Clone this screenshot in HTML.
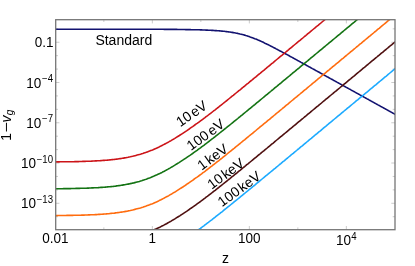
<!DOCTYPE html>
<html><head><meta charset="utf-8"><title>plot</title>
<style>
html,body{margin:0;padding:0;background:#fff;}
body{width:415px;height:266px;overflow:hidden;position:relative;font-family:"Liberation Sans",sans-serif;}
svg{position:absolute;left:0;top:0;will-change:transform;}
</style></head><body>
<svg width="415" height="266" viewBox="0 0 415 266">
<defs><clipPath id="c"><rect x="55.70" y="19.70" width="339.30" height="210.00"/></clipPath></defs>
<path d="M55.70 216.71 h2.30 M395.00 216.71 h-2.30 M55.70 203.29 h3.70 M395.00 203.29 h-3.70 M55.70 189.87 h2.30 M395.00 189.87 h-2.30 M55.70 176.45 h2.30 M395.00 176.45 h-2.30 M55.70 163.03 h3.70 M395.00 163.03 h-3.70 M55.70 149.61 h2.30 M395.00 149.61 h-2.30 M55.70 136.19 h2.30 M395.00 136.19 h-2.30 M55.70 122.77 h3.70 M395.00 122.77 h-3.70 M55.70 109.35 h2.30 M395.00 109.35 h-2.30 M55.70 95.93 h2.30 M395.00 95.93 h-2.30 M55.70 82.51 h3.70 M395.00 82.51 h-3.70 M55.70 69.09 h2.30 M395.00 69.09 h-2.30 M55.70 55.67 h2.30 M395.00 55.67 h-2.30 M55.70 42.25 h3.70 M395.00 42.25 h-3.70 M55.70 28.83 h2.30 M395.00 28.83 h-2.30 M103.85 229.70 v-2.30 M103.85 19.70 v2.30 M152.35 229.70 v-3.70 M152.35 19.70 v3.70 M200.85 229.70 v-2.30 M200.85 19.70 v2.30 M249.35 229.70 v-3.70 M249.35 19.70 v3.70 M297.85 229.70 v-2.30 M297.85 19.70 v2.30 M346.35 229.70 v-3.70 M346.35 19.70 v3.70" stroke="#aaa" stroke-width="0.6" fill="none"/>
<g clip-path="url(#c)" fill="none" stroke-width="1.6" stroke-linejoin="round">
<path d="M53.4 29.2L54.6 29.2L55.7 29.2L56.8 29.2L58.0 29.2L59.1 29.2L60.2 29.2L61.4 29.2L62.5 29.2L63.6 29.2L64.7 29.2L65.9 29.2L67.0 29.2L68.1 29.2L69.3 29.2L70.4 29.2L71.5 29.2L72.7 29.2L73.8 29.2L74.9 29.2L76.1 29.2L77.2 29.2L78.3 29.2L79.5 29.2L80.6 29.2L81.7 29.2L82.8 29.2L84.0 29.2L85.1 29.2L86.2 29.2L87.4 29.2L88.5 29.2L89.6 29.2L90.8 29.2L91.9 29.2L93.0 29.2L94.2 29.2L95.3 29.2L96.4 29.2L97.5 29.2L98.7 29.2L99.8 29.2L100.9 29.2L102.1 29.2L103.2 29.2L104.3 29.2L105.5 29.2L106.6 29.2L107.7 29.2L108.9 29.2L110.0 29.3L111.1 29.3L112.2 29.3L113.4 29.3L114.5 29.3L115.6 29.3L116.8 29.3L117.9 29.3L119.0 29.3L120.2 29.3L121.3 29.3L122.4 29.3L123.6 29.3L124.7 29.3L125.8 29.3L127.0 29.3L128.1 29.3L129.2 29.3L130.3 29.3L131.5 29.3L132.6 29.3L133.7 29.3L134.9 29.3L136.0 29.3L137.1 29.3L138.3 29.3L139.4 29.3L140.5 29.3L141.7 29.3L142.8 29.3L143.9 29.3L145.0 29.3L146.2 29.3L147.3 29.3L148.4 29.3L149.6 29.3L150.7 29.3L151.8 29.3L153.0 29.3L154.1 29.3L155.2 29.3L156.4 29.3L157.5 29.3L158.6 29.3L159.8 29.3L160.9 29.3L162.0 29.3L163.1 29.3L164.3 29.4L165.4 29.4L166.5 29.4L167.7 29.4L168.8 29.4L169.9 29.4L171.1 29.4L172.2 29.4L173.3 29.4L174.5 29.4L175.6 29.4L176.7 29.4L177.8 29.5L179.0 29.5L180.1 29.5L181.2 29.5L182.4 29.5L183.5 29.5L184.6 29.5L185.8 29.6L186.9 29.6L188.0 29.6L189.2 29.6L190.3 29.6L191.4 29.7L192.6 29.7L193.7 29.7L194.8 29.7L195.9 29.8L197.1 29.8L198.2 29.8L199.3 29.8L200.5 29.9L201.6 29.9L202.7 30.0L203.9 30.0L205.0 30.0L206.1 30.1L207.3 30.1L208.4 30.2L209.5 30.2L210.6 30.3L211.8 30.4L212.9 30.4L214.0 30.5L215.2 30.6L216.3 30.6L217.4 30.7L218.6 30.8L219.7 30.9L220.8 31.0L222.0 31.1L223.1 31.2L224.2 31.3L225.4 31.5L226.5 31.6L227.6 31.7L228.7 31.9L229.9 32.0L231.0 32.2L232.1 32.4L233.3 32.6L234.4 32.8L235.5 33.0L236.7 33.2L237.8 33.4L238.9 33.7L240.1 34.0L241.2 34.2L242.3 34.5L243.4 34.8L244.6 35.1L245.7 35.5L246.8 35.8L248.0 36.2L249.1 36.6L250.2 37.0L251.4 37.4L252.5 37.8L253.6 38.2L254.8 38.7L255.9 39.1L257.0 39.6L258.1 40.1L259.3 40.6L260.4 41.1L261.5 41.6L262.7 42.1L263.8 42.6L264.9 43.2L266.1 43.7L267.2 44.3L268.3 44.8L269.5 45.4L270.6 46.0L271.7 46.5L272.9 47.1L274.0 47.7L275.1 48.3L276.2 48.9L277.4 49.5L278.5 50.1L279.6 50.7L280.8 51.3L281.9 51.9L283.0 52.5L284.2 53.1L285.3 53.7L286.4 54.3L287.6 54.9L288.7 55.5L289.8 56.2L290.9 56.8L292.1 57.4L293.2 58.0L294.3 58.6L295.5 59.3L296.6 59.9L297.7 60.5L298.9 61.1L300.0 61.7L301.1 62.4L302.3 63.0L303.4 63.6L304.5 64.2L305.7 64.8L306.8 65.5L307.9 66.1L309.0 66.7L310.2 67.3L311.3 68.0L312.4 68.6L313.6 69.2L314.7 69.8L315.8 70.5L317.0 71.1L318.1 71.7L319.2 72.3L320.4 73.0L321.5 73.6L322.6 74.2L323.7 74.8L324.9 75.5L326.0 76.1L327.1 76.7L328.3 77.3L329.4 78.0L330.5 78.6L331.7 79.2L332.8 79.8L333.9 80.5L335.1 81.1L336.2 81.7L337.3 82.4L338.5 83.0L339.6 83.6L340.7 84.2L341.8 84.9L343.0 85.5L344.1 86.1L345.2 86.7L346.4 87.4L347.5 88.0L348.6 88.6L349.8 89.2L350.9 89.9L352.0 90.5L353.2 91.1L354.3 91.7L355.4 92.4L356.5 93.0L357.7 93.6L358.8 94.2L359.9 94.9L361.1 95.5L362.2 96.1L363.3 96.7L364.5 97.4L365.6 98.0L366.7 98.6L367.9 99.2L369.0 99.9L370.1 100.5L371.2 101.1L372.4 101.8L373.5 102.4L374.6 103.0L375.8 103.6L376.9 104.3L378.0 104.9L379.2 105.5L380.3 106.1L381.4 106.8L382.6 107.4L383.7 108.0L384.8 108.6L386.0 109.3L387.1 109.9L388.2 110.5L389.3 111.1L390.5 111.8L391.6 112.4L392.7 113.0L393.9 113.6L395.0 114.3L396.1 114.9L397.3 115.5" stroke="#121270"/>
<path d="M53.4 161.9L54.6 161.9L55.7 161.9L56.8 161.9L58.0 161.9L59.1 161.9L60.2 161.8L61.4 161.8L62.5 161.8L63.6 161.8L64.7 161.8L65.9 161.8L67.0 161.8L68.1 161.7L69.3 161.7L70.4 161.7L71.5 161.7L72.7 161.7L73.8 161.7L74.9 161.6L76.1 161.6L77.2 161.6L78.3 161.6L79.5 161.5L80.6 161.5L81.7 161.5L82.8 161.4L84.0 161.4L85.1 161.4L86.2 161.3L87.4 161.3L88.5 161.2L89.6 161.2L90.8 161.2L91.9 161.1L93.0 161.0L94.2 161.0L95.3 160.9L96.4 160.9L97.5 160.8L98.7 160.7L99.8 160.7L100.9 160.6L102.1 160.5L103.2 160.4L104.3 160.4L105.5 160.3L106.6 160.2L107.7 160.1L108.9 160.0L110.0 159.9L111.1 159.8L112.2 159.6L113.4 159.5L114.5 159.4L115.6 159.2L116.8 159.1L117.9 159.0L119.0 158.8L120.2 158.6L121.3 158.5L122.4 158.3L123.6 158.1L124.7 157.9L125.8 157.7L127.0 157.5L128.1 157.3L129.2 157.0L130.3 156.8L131.5 156.5L132.6 156.3L133.7 156.0L134.9 155.7L136.0 155.4L137.1 155.1L138.3 154.8L139.4 154.5L140.5 154.2L141.7 153.8L142.8 153.5L143.9 153.1L145.0 152.7L146.2 152.3L147.3 151.9L148.4 151.5L149.6 151.1L150.7 150.6L151.8 150.2L153.0 149.7L154.1 149.2L155.2 148.7L156.4 148.2L157.5 147.7L158.6 147.2L159.8 146.6L160.9 146.1L162.0 145.5L163.1 144.9L164.3 144.3L165.4 143.7L166.5 143.1L167.7 142.5L168.8 141.9L169.9 141.2L171.1 140.6L172.2 139.9L173.3 139.3L174.5 138.6L175.6 137.9L176.7 137.2L177.8 136.5L179.0 135.8L180.1 135.0L181.2 134.3L182.4 133.6L183.5 132.8L184.6 132.1L185.8 131.3L186.9 130.6L188.0 129.8L189.2 129.0L190.3 128.2L191.4 127.4L192.6 126.6L193.7 125.8L194.8 125.0L195.9 124.2L197.1 123.4L198.2 122.6L199.3 121.8L200.5 120.9L201.6 120.1L202.7 119.3L203.9 118.4L205.0 117.6L206.1 116.7L207.3 115.9L208.4 115.0L209.5 114.1L210.6 113.3L211.8 112.4L212.9 111.5L214.0 110.6L215.2 109.8L216.3 108.9L217.4 108.0L218.6 107.1L219.7 106.2L220.8 105.3L222.0 104.4L223.1 103.5L224.2 102.6L225.4 101.7L226.5 100.8L227.6 99.9L228.7 99.0L229.9 98.0L231.0 97.1L232.1 96.2L233.3 95.3L234.4 94.4L235.5 93.5L236.7 92.5L237.8 91.6L238.9 90.7L240.1 89.8L241.2 88.9L242.3 87.9L243.4 87.0L244.6 86.1L245.7 85.1L246.8 84.2L248.0 83.3L249.1 82.4L250.2 81.4L251.4 80.5L252.5 79.6L253.6 78.6L254.8 77.7L255.9 76.8L257.0 75.8L258.1 74.9L259.3 74.0L260.4 73.1L261.5 72.1L262.7 71.2L263.8 70.3L264.9 69.3L266.1 68.4L267.2 67.4L268.3 66.5L269.5 65.6L270.6 64.6L271.7 63.7L272.9 62.8L274.0 61.8L275.1 60.9L276.2 60.0L277.4 59.0L278.5 58.1L279.6 57.2L280.8 56.2L281.9 55.3L283.0 54.3L284.2 53.4L285.3 52.5L286.4 51.5L287.6 50.6L288.7 49.7L289.8 48.7L290.9 47.8L292.1 46.8L293.2 45.9L294.3 45.0L295.5 44.0L296.6 43.1L297.7 42.2L298.9 41.2L300.0 40.3L301.1 39.3L302.3 38.4L303.4 37.5L304.5 36.5L305.7 35.6L306.8 34.7L307.9 33.7L309.0 32.8L310.2 31.8L311.3 30.9L312.4 30.0L313.6 29.0L314.7 28.1L315.8 27.1L317.0 26.2L318.1 25.3L319.2 24.3L320.4 23.4L321.5 22.5L322.6 21.5L323.7 20.6L324.9 19.6L326.0 18.7L327.1 17.8L328.3 16.8L329.4 15.9L330.5 14.9L331.7 14.0L332.8 13.1L333.9 12.1" stroke="#cc1418"/>
<path d="M53.4 188.7L54.6 188.7L55.7 188.7L56.8 188.7L58.0 188.7L59.1 188.7L60.2 188.7L61.4 188.7L62.5 188.7L63.6 188.6L64.7 188.6L65.9 188.6L67.0 188.6L68.1 188.6L69.3 188.6L70.4 188.6L71.5 188.5L72.7 188.5L73.8 188.5L74.9 188.5L76.1 188.4L77.2 188.4L78.3 188.4L79.5 188.4L80.6 188.3L81.7 188.3L82.8 188.3L84.0 188.2L85.1 188.2L86.2 188.2L87.4 188.1L88.5 188.1L89.6 188.0L90.8 188.0L91.9 187.9L93.0 187.9L94.2 187.8L95.3 187.8L96.4 187.7L97.5 187.7L98.7 187.6L99.8 187.5L100.9 187.4L102.1 187.4L103.2 187.3L104.3 187.2L105.5 187.1L106.6 187.0L107.7 186.9L108.9 186.8L110.0 186.7L111.1 186.6L112.2 186.5L113.4 186.4L114.5 186.2L115.6 186.1L116.8 185.9L117.9 185.8L119.0 185.6L120.2 185.5L121.3 185.3L122.4 185.1L123.6 184.9L124.7 184.7L125.8 184.5L127.0 184.3L128.1 184.1L129.2 183.9L130.3 183.6L131.5 183.4L132.6 183.1L133.7 182.9L134.9 182.6L136.0 182.3L137.1 182.0L138.3 181.7L139.4 181.4L140.5 181.0L141.7 180.7L142.8 180.3L143.9 179.9L145.0 179.6L146.2 179.2L147.3 178.8L148.4 178.3L149.6 177.9L150.7 177.5L151.8 177.0L153.0 176.5L154.1 176.1L155.2 175.6L156.4 175.1L157.5 174.5L158.6 174.0L159.8 173.5L160.9 172.9L162.0 172.4L163.1 171.8L164.3 171.2L165.4 170.6L166.5 170.0L167.7 169.4L168.8 168.7L169.9 168.1L171.1 167.4L172.2 166.8L173.3 166.1L174.5 165.4L175.6 164.7L176.7 164.0L177.8 163.3L179.0 162.6L180.1 161.9L181.2 161.2L182.4 160.4L183.5 159.7L184.6 158.9L185.8 158.2L186.9 157.4L188.0 156.6L189.2 155.8L190.3 155.1L191.4 154.3L192.6 153.5L193.7 152.7L194.8 151.9L195.9 151.1L197.1 150.3L198.2 149.4L199.3 148.6L200.5 147.8L201.6 146.9L202.7 146.1L203.9 145.3L205.0 144.4L206.1 143.6L207.3 142.7L208.4 141.8L209.5 141.0L210.6 140.1L211.8 139.2L212.9 138.4L214.0 137.5L215.2 136.6L216.3 135.7L217.4 134.8L218.6 133.9L219.7 133.0L220.8 132.1L222.0 131.2L223.1 130.3L224.2 129.4L225.4 128.5L226.5 127.6L227.6 126.7L228.7 125.8L229.9 124.9L231.0 124.0L232.1 123.1L233.3 122.1L234.4 121.2L235.5 120.3L236.7 119.4L237.8 118.5L238.9 117.5L240.1 116.6L241.2 115.7L242.3 114.8L243.4 113.8L244.6 112.9L245.7 112.0L246.8 111.1L248.0 110.1L249.1 109.2L250.2 108.3L251.4 107.3L252.5 106.4L253.6 105.5L254.8 104.6L255.9 103.6L257.0 102.7L258.1 101.8L259.3 100.8L260.4 99.9L261.5 99.0L262.7 98.0L263.8 97.1L264.9 96.2L266.1 95.2L267.2 94.3L268.3 93.4L269.5 92.4L270.6 91.5L271.7 90.5L272.9 89.6L274.0 88.7L275.1 87.7L276.2 86.8L277.4 85.9L278.5 84.9L279.6 84.0L280.8 83.1L281.9 82.1L283.0 81.2L284.2 80.2L285.3 79.3L286.4 78.4L287.6 77.4L288.7 76.5L289.8 75.6L290.9 74.6L292.1 73.7L293.2 72.7L294.3 71.8L295.5 70.9L296.6 69.9L297.7 69.0L298.9 68.1L300.0 67.1L301.1 66.2L302.3 65.2L303.4 64.3L304.5 63.4L305.7 62.4L306.8 61.5L307.9 60.6L309.0 59.6L310.2 58.7L311.3 57.7L312.4 56.8L313.6 55.9L314.7 54.9L315.8 54.0L317.0 53.0L318.1 52.1L319.2 51.2L320.4 50.2L321.5 49.3L322.6 48.4L323.7 47.4L324.9 46.5L326.0 45.5L327.1 44.6L328.3 43.7L329.4 42.7L330.5 41.8L331.7 40.8L332.8 39.9L333.9 39.0L335.1 38.0L336.2 37.1L337.3 36.2L338.5 35.2L339.6 34.3L340.7 33.3L341.8 32.4L343.0 31.5L344.1 30.5L345.2 29.6L346.4 28.6L347.5 27.7L348.6 26.8L349.8 25.8L350.9 24.9L352.0 23.9L353.2 23.0L354.3 22.1L355.4 21.1L356.5 20.2L357.7 19.3L358.8 18.3L359.9 17.4L361.1 16.4L362.2 15.5L363.3 14.6L364.5 13.6L365.6 12.7L366.7 11.7" stroke="#137313"/>
<path d="M53.4 215.6L54.6 215.6L55.7 215.6L56.8 215.6L58.0 215.5L59.1 215.5L60.2 215.5L61.4 215.5L62.5 215.5L63.6 215.5L64.7 215.5L65.9 215.5L67.0 215.4L68.1 215.4L69.3 215.4L70.4 215.4L71.5 215.4L72.7 215.4L73.8 215.3L74.9 215.3L76.1 215.3L77.2 215.3L78.3 215.2L79.5 215.2L80.6 215.2L81.7 215.1L82.8 215.1L84.0 215.1L85.1 215.0L86.2 215.0L87.4 215.0L88.5 214.9L89.6 214.9L90.8 214.8L91.9 214.8L93.0 214.7L94.2 214.7L95.3 214.6L96.4 214.6L97.5 214.5L98.7 214.4L99.8 214.4L100.9 214.3L102.1 214.2L103.2 214.1L104.3 214.0L105.5 214.0L106.6 213.9L107.7 213.8L108.9 213.7L110.0 213.5L111.1 213.4L112.2 213.3L113.4 213.2L114.5 213.1L115.6 212.9L116.8 212.8L117.9 212.6L119.0 212.5L120.2 212.3L121.3 212.1L122.4 212.0L123.6 211.8L124.7 211.6L125.8 211.4L127.0 211.2L128.1 210.9L129.2 210.7L130.3 210.5L131.5 210.2L132.6 210.0L133.7 209.7L134.9 209.4L136.0 209.1L137.1 208.8L138.3 208.5L139.4 208.2L140.5 207.9L141.7 207.5L142.8 207.2L143.9 206.8L145.0 206.4L146.2 206.0L147.3 205.6L148.4 205.2L149.6 204.8L150.7 204.3L151.8 203.9L153.0 203.4L154.1 202.9L155.2 202.4L156.4 201.9L157.5 201.4L158.6 200.9L159.8 200.3L160.9 199.8L162.0 199.2L163.1 198.6L164.3 198.0L165.4 197.4L166.5 196.8L167.7 196.2L168.8 195.6L169.9 194.9L171.1 194.3L172.2 193.6L173.3 192.9L174.5 192.3L175.6 191.6L176.7 190.9L177.8 190.2L179.0 189.4L180.1 188.7L181.2 188.0L182.4 187.3L183.5 186.5L184.6 185.8L185.8 185.0L186.9 184.2L188.0 183.5L189.2 182.7L190.3 181.9L191.4 181.1L192.6 180.3L193.7 179.5L194.8 178.7L195.9 177.9L197.1 177.1L198.2 176.3L199.3 175.5L200.5 174.6L201.6 173.8L202.7 172.9L203.9 172.1L205.0 171.3L206.1 170.4L207.3 169.5L208.4 168.7L209.5 167.8L210.6 166.9L211.8 166.1L212.9 165.2L214.0 164.3L215.2 163.4L216.3 162.5L217.4 161.7L218.6 160.8L219.7 159.9L220.8 159.0L222.0 158.1L223.1 157.2L224.2 156.3L225.4 155.4L226.5 154.5L227.6 153.5L228.7 152.6L229.9 151.7L231.0 150.8L232.1 149.9L233.3 149.0L234.4 148.1L235.5 147.1L236.7 146.2L237.8 145.3L238.9 144.4L240.1 143.5L241.2 142.5L242.3 141.6L243.4 140.7L244.6 139.8L245.7 138.8L246.8 137.9L248.0 137.0L249.1 136.0L250.2 135.1L251.4 134.2L252.5 133.3L253.6 132.3L254.8 131.4L255.9 130.5L257.0 129.5L258.1 128.6L259.3 127.7L260.4 126.7L261.5 125.8L262.7 124.9L263.8 123.9L264.9 123.0L266.1 122.1L267.2 121.1L268.3 120.2L269.5 119.3L270.6 118.3L271.7 117.4L272.9 116.5L274.0 115.5L275.1 114.6L276.2 113.6L277.4 112.7L278.5 111.8L279.6 110.8L280.8 109.9L281.9 109.0L283.0 108.0L284.2 107.1L285.3 106.1L286.4 105.2L287.6 104.3L288.7 103.3L289.8 102.4L290.9 101.5L292.1 100.5L293.2 99.6L294.3 98.6L295.5 97.7L296.6 96.8L297.7 95.8L298.9 94.9L300.0 94.0L301.1 93.0L302.3 92.1L303.4 91.1L304.5 90.2L305.7 89.3L306.8 88.3L307.9 87.4L309.0 86.5L310.2 85.5L311.3 84.6L312.4 83.6L313.6 82.7L314.7 81.8L315.8 80.8L317.0 79.9L318.1 78.9L319.2 78.0L320.4 77.1L321.5 76.1L322.6 75.2L323.7 74.3L324.9 73.3L326.0 72.4L327.1 71.4L328.3 70.5L329.4 69.6L330.5 68.6L331.7 67.7L332.8 66.7L333.9 65.8L335.1 64.9L336.2 63.9L337.3 63.0L338.5 62.1L339.6 61.1L340.7 60.2L341.8 59.2L343.0 58.3L344.1 57.4L345.2 56.4L346.4 55.5L347.5 54.5L348.6 53.6L349.8 52.7L350.9 51.7L352.0 50.8L353.2 49.8L354.3 48.9L355.4 48.0L356.5 47.0L357.7 46.1L358.8 45.2L359.9 44.2L361.1 43.3L362.2 42.3L363.3 41.4L364.5 40.5L365.6 39.5L366.7 38.6L367.9 37.6L369.0 36.7L370.1 35.8L371.2 34.8L372.4 33.9L373.5 33.0L374.6 32.0L375.8 31.1L376.9 30.1L378.0 29.2L379.2 28.3L380.3 27.3L381.4 26.4L382.6 25.4L383.7 24.5L384.8 23.6L386.0 22.6L387.1 21.7L388.2 20.7L389.3 19.8L390.5 18.9L391.6 17.9L392.7 17.0L393.9 16.1L395.0 15.1L396.1 14.2L397.3 13.2" stroke="#ff6c0e"/>
<path d="M129.2 237.6L130.3 237.3L131.5 237.1L132.6 236.8L133.7 236.5L134.9 236.3L136.0 236.0L137.1 235.7L138.3 235.4L139.4 235.0L140.5 234.7L141.7 234.4L142.8 234.0L143.9 233.6L145.0 233.2L146.2 232.8L147.3 232.4L148.4 232.0L149.6 231.6L150.7 231.1L151.8 230.7L153.0 230.2L154.1 229.7L155.2 229.2L156.4 228.7L157.5 228.2L158.6 227.7L159.8 227.2L160.9 226.6L162.0 226.0L163.1 225.5L164.3 224.9L165.4 224.3L166.5 223.7L167.7 223.0L168.8 222.4L169.9 221.8L171.1 221.1L172.2 220.4L173.3 219.8L174.5 219.1L175.6 218.4L176.7 217.7L177.8 217.0L179.0 216.3L180.1 215.6L181.2 214.8L182.4 214.1L183.5 213.3L184.6 212.6L185.8 211.8L186.9 211.1L188.0 210.3L189.2 209.5L190.3 208.7L191.4 208.0L192.6 207.2L193.7 206.4L194.8 205.6L195.9 204.8L197.1 203.9L198.2 203.1L199.3 202.3L200.5 201.5L201.6 200.6L202.7 199.8L203.9 198.9L205.0 198.1L206.1 197.2L207.3 196.4L208.4 195.5L209.5 194.7L210.6 193.8L211.8 192.9L212.9 192.0L214.0 191.2L215.2 190.3L216.3 189.4L217.4 188.5L218.6 187.6L219.7 186.7L220.8 185.8L222.0 184.9L223.1 184.0L224.2 183.1L225.4 182.2L226.5 181.3L227.6 180.4L228.7 179.5L229.9 178.6L231.0 177.7L232.1 176.7L233.3 175.8L234.4 174.9L235.5 174.0L236.7 173.1L237.8 172.1L238.9 171.2L240.1 170.3L241.2 169.4L242.3 168.4L243.4 167.5L244.6 166.6L245.7 165.7L246.8 164.7L248.0 163.8L249.1 162.9L250.2 162.0L251.4 161.0L252.5 160.1L253.6 159.2L254.8 158.2L255.9 157.3L257.0 156.4L258.1 155.4L259.3 154.5L260.4 153.6L261.5 152.6L262.7 151.7L263.8 150.8L264.9 149.8L266.1 148.9L267.2 148.0L268.3 147.0L269.5 146.1L270.6 145.2L271.7 144.2L272.9 143.3L274.0 142.4L275.1 141.4L276.2 140.5L277.4 139.5L278.5 138.6L279.6 137.7L280.8 136.7L281.9 135.8L283.0 134.9L284.2 133.9L285.3 133.0L286.4 132.1L287.6 131.1L288.7 130.2L289.8 129.2L290.9 128.3L292.1 127.4L293.2 126.4L294.3 125.5L295.5 124.6L296.6 123.6L297.7 122.7L298.9 121.7L300.0 120.8L301.1 119.9L302.3 118.9L303.4 118.0L304.5 117.0L305.7 116.1L306.8 115.2L307.9 114.2L309.0 113.3L310.2 112.4L311.3 111.4L312.4 110.5L313.6 109.5L314.7 108.6L315.8 107.7L317.0 106.7L318.1 105.8L319.2 104.8L320.4 103.9L321.5 103.0L322.6 102.0L323.7 101.1L324.9 100.2L326.0 99.2L327.1 98.3L328.3 97.3L329.4 96.4L330.5 95.5L331.7 94.5L332.8 93.6L333.9 92.6L335.1 91.7L336.2 90.8L337.3 89.8L338.5 88.9L339.6 88.0L340.7 87.0L341.8 86.1L343.0 85.1L344.1 84.2L345.2 83.3L346.4 82.3L347.5 81.4L348.6 80.4L349.8 79.5L350.9 78.6L352.0 77.6L353.2 76.7L354.3 75.8L355.4 74.8L356.5 73.9L357.7 72.9L358.8 72.0L359.9 71.1L361.1 70.1L362.2 69.2L363.3 68.2L364.5 67.3L365.6 66.4L366.7 65.4L367.9 64.5L369.0 63.5L370.1 62.6L371.2 61.7L372.4 60.7L373.5 59.8L374.6 58.9L375.8 57.9L376.9 57.0L378.0 56.0L379.2 55.1L380.3 54.2L381.4 53.2L382.6 52.3L383.7 51.3L384.8 50.4L386.0 49.5L387.1 48.5L388.2 47.6L389.3 46.6L390.5 45.7L391.6 44.8L392.7 43.8L393.9 42.9L395.0 42.0L396.1 41.0L397.3 40.1" stroke="#4f1010"/>
<path d="M188.0 237.1L189.2 236.4L190.3 235.6L191.4 234.8L192.6 234.0L193.7 233.2L194.8 232.4L195.9 231.6L197.1 230.8L198.2 230.0L199.3 229.1L200.5 228.3L201.6 227.5L202.7 226.6L203.9 225.8L205.0 224.9L206.1 224.1L207.3 223.2L208.4 222.4L209.5 221.5L210.6 220.6L211.8 219.8L212.9 218.9L214.0 218.0L215.2 217.1L216.3 216.2L217.4 215.3L218.6 214.4L219.7 213.6L220.8 212.7L222.0 211.8L223.1 210.9L224.2 209.9L225.4 209.0L226.5 208.1L227.6 207.2L228.7 206.3L229.9 205.4L231.0 204.5L232.1 203.6L233.3 202.7L234.4 201.7L235.5 200.8L236.7 199.9L237.8 199.0L238.9 198.1L240.1 197.1L241.2 196.2L242.3 195.3L243.4 194.4L244.6 193.4L245.7 192.5L246.8 191.6L248.0 190.7L249.1 189.7L250.2 188.8L251.4 187.9L252.5 186.9L253.6 186.0L254.8 185.1L255.9 184.1L257.0 183.2L258.1 182.3L259.3 181.3L260.4 180.4L261.5 179.5L262.7 178.5L263.8 177.6L264.9 176.7L266.1 175.7L267.2 174.8L268.3 173.9L269.5 172.9L270.6 172.0L271.7 171.1L272.9 170.1L274.0 169.2L275.1 168.3L276.2 167.3L277.4 166.4L278.5 165.5L279.6 164.5L280.8 163.6L281.9 162.6L283.0 161.7L284.2 160.8L285.3 159.8L286.4 158.9L287.6 158.0L288.7 157.0L289.8 156.1L290.9 155.1L292.1 154.2L293.2 153.3L294.3 152.3L295.5 151.4L296.6 150.5L297.7 149.5L298.9 148.6L300.0 147.6L301.1 146.7L302.3 145.8L303.4 144.8L304.5 143.9L305.7 143.0L306.8 142.0L307.9 141.1L309.0 140.1L310.2 139.2L311.3 138.3L312.4 137.3L313.6 136.4L314.7 135.4L315.8 134.5L317.0 133.6L318.1 132.6L319.2 131.7L320.4 130.8L321.5 129.8L322.6 128.9L323.7 127.9L324.9 127.0L326.0 126.1L327.1 125.1L328.3 124.2L329.4 123.2L330.5 122.3L331.7 121.4L332.8 120.4L333.9 119.5L335.1 118.5L336.2 117.6L337.3 116.7L338.5 115.7L339.6 114.8L340.7 113.9L341.8 112.9L343.0 112.0L344.1 111.0L345.2 110.1L346.4 109.2L347.5 108.2L348.6 107.3L349.8 106.3L350.9 105.4L352.0 104.5L353.2 103.5L354.3 102.6L355.4 101.7L356.5 100.7L357.7 99.8L358.8 98.8L359.9 97.9L361.1 97.0L362.2 96.0L363.3 95.1L364.5 94.1L365.6 93.2L366.7 92.3L367.9 91.3L369.0 90.4L370.1 89.4L371.2 88.5L372.4 87.6L373.5 86.6L374.6 85.7L375.8 84.8L376.9 83.8L378.0 82.9L379.2 81.9L380.3 81.0L381.4 80.1L382.6 79.1L383.7 78.2L384.8 77.2L386.0 76.3L387.1 75.4L388.2 74.4L389.3 73.5L390.5 72.5L391.6 71.6L392.7 70.7L393.9 69.7L395.0 68.8L396.1 67.9L397.3 66.9" stroke="#1caaff"/>
</g>
<rect x="55.70" y="19.70" width="339.30" height="210.00" fill="none" stroke="#767676" stroke-width="1.3"/>
<g font-family="Liberation Sans, sans-serif" fill="#000">
<text transform="translate(53.60,46.75) scale(0.965,1)" font-size="14.00" text-anchor="end" >0.1</text>
<text transform="translate(53.10,87.71) scale(0.965,1)" font-size="14.00" text-anchor="end" >10<tspan font-size="10.00" dy="-5.60" dx="0.8">−4</tspan></text>
<text transform="translate(53.10,127.97) scale(0.965,1)" font-size="14.00" text-anchor="end" >10<tspan font-size="10.00" dy="-5.60" dx="0.8">−7</tspan></text>
<text transform="translate(53.10,168.23) scale(0.965,1)" font-size="14.00" text-anchor="end" >10<tspan font-size="10.00" dy="-5.60" dx="0.8">−10</tspan></text>
<text transform="translate(53.10,208.49) scale(0.965,1)" font-size="14.00" text-anchor="end" >10<tspan font-size="10.00" dy="-5.60" dx="0.8">−13</tspan></text>
<text transform="translate(55.35,243.00) scale(0.965,1)" font-size="14.00" text-anchor="middle" >0.01</text>
<text transform="translate(152.35,243.00) scale(0.965,1)" font-size="14.00" text-anchor="middle" >1</text>
<text transform="translate(249.35,243.00) scale(0.965,1)" font-size="14.00" text-anchor="middle" >100</text>
<text transform="translate(346.35,244.50) scale(0.965,1)" font-size="14.00" text-anchor="middle" >10<tspan font-size="10.00" dy="-5.00" dx="0.3">4</tspan></text>
<text x="225.60" y="262.80" font-size="14.00" text-anchor="middle" >z</text>
<text transform="translate(10.5,140.0) rotate(-90)" font-size="14"><tspan x="-0.8">1</tspan><tspan x="7.15" textLength="10.7" lengthAdjust="spacingAndGlyphs">−</tspan><tspan x="17.6" font-style="italic">v</tspan><tspan x="24.8" dy="2.2" font-size="10" font-style="italic">g</tspan></text>
<text x="95.40" y="44.70" font-size="14.00" text-anchor="start" >Standard</text>
<text transform="translate(208.25,107.91) rotate(-34.5)" font-size="14.00" text-anchor="end">10<tspan dx="1.40">eV</tspan></text>
<text transform="translate(225.48,126.11) rotate(-36.0)" font-size="14.00" text-anchor="end">100<tspan dx="2.00">eV</tspan></text>
<text transform="translate(229.08,150.91) rotate(-36.0)" font-size="14.00" text-anchor="end">1<tspan dx="2.00">keV</tspan></text>
<text transform="translate(245.18,165.36) rotate(-36.0)" font-size="14.00" text-anchor="end">10<tspan dx="1.60">keV</tspan></text>
<text transform="translate(261.83,178.36) rotate(-36.0)" font-size="14.00" text-anchor="end">100<tspan dx="1.60">keV</tspan></text>
</g>
</svg>
</body></html>
